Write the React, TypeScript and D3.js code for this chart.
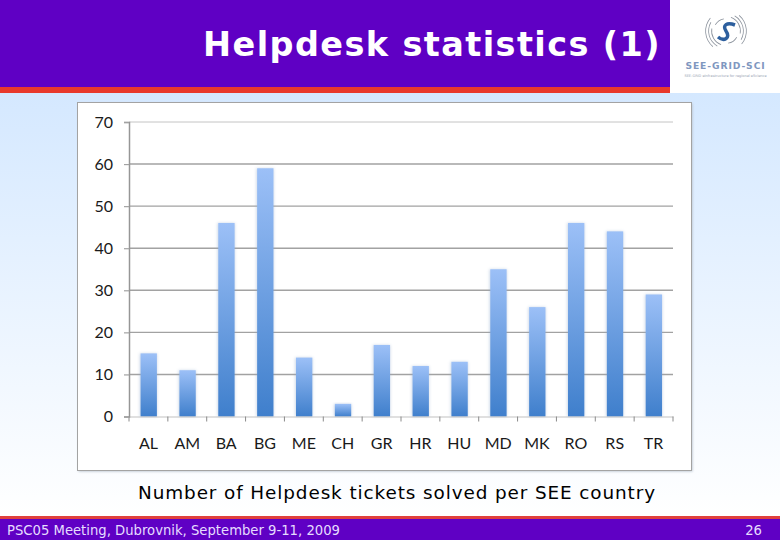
import React, { useEffect, useRef } from 'react'
import * as d3 from 'd3'

const countries = ['AL', 'AM', 'BA', 'BG', 'ME', 'CH', 'GR', 'HR', 'HU', 'MD', 'MK', 'RO', 'RS', 'TR']
const tickets = [15, 11, 46, 59, 14, 3, 17, 12, 13, 35, 26, 46, 44, 29]
const yTicks = [0, 10, 20, 30, 40, 50, 60, 70]

const titleText = 'Helpdesk statistics (1)'
const captionText = 'Number of Helpdesk tickets solved per SEE country'
const footerText = 'PSC05 Meeting, Dubrovnik, September 9-11, 2009'
const pageNumber = '26'

const width = 780
const height = 540
const panel = { left: 77.5, top: 102.5, right: 691.5, bottom: 470.5 }
const plot = { left: 129, top: 122, right: 673, bottom: 416.5 }
const uiFont = 'DejaVu Sans, Verdana, sans-serif'
const chartFont = 'Lato, Open Sans, sans-serif'

const App = () => {
    const svgRef = useRef<SVGSVGElement>(null)

    useEffect(() => {
        const svg = d3.select(svgRef.current)
        svg.selectAll('*').remove()

        const defs = svg.append('defs')
        const bg = defs.append('linearGradient').attr('id', 'bg').attr('x1', 0).attr('x2', 0).attr('y1', 0).attr('y2', 1)
        bg.append('stop').attr('offset', '0%').attr('stop-color', '#cbe3ff')
        bg.append('stop').attr('offset', '100%').attr('stop-color', '#ffffff')
        const barFill = defs.append('linearGradient').attr('id', 'barFill').attr('x1', 0).attr('x2', 0).attr('y1', 0).attr('y2', 1)
        barFill.append('stop').attr('offset', '0%').attr('stop-color', '#9cc0f7')
        barFill.append('stop').attr('offset', '100%').attr('stop-color', '#3f7fcc')
        const blur = defs.append('filter').attr('id', 'soft').attr('x', '-30%').attr('width', '160%')
        blur.append('feGaussianBlur').attr('stdDeviation', 1.6)
        const panelShadow = defs.append('filter').attr('id', 'panelShadow')
        panelShadow.append('feGaussianBlur').attr('stdDeviation', 0.8)

        // page
        svg.append('rect').attr('width', width).attr('height', 517).attr('fill', 'url(#bg)')
        svg.append('rect').attr('width', 670).attr('height', 88).attr('fill', '#5f00c4')
        svg.append('rect').attr('y', 87).attr('width', 670).attr('height', 6).attr('fill', '#e8392c')
        svg.append('rect').attr('x', 670).attr('width', 110).attr('height', 93).attr('fill', '#ffffff')
        svg.append('text').attr('x', 661).attr('y', 56).attr('text-anchor', 'end')
            .attr('font-family', uiFont).attr('font-weight', 'bold').attr('font-size', 33.5)
            .attr('letter-spacing', 1.4).attr('fill', '#fff').text(titleText)

        // logo
        const logo = svg.append('g').attr('fill', 'none')
        const swirl = d3.arc()
        ;[[14, 20, 100], [17, 30, 120], [20, 40, 130], [14, 200, 280], [17, 210, 300], [20, 220, 310], [12, 300, 350], [12, 120, 170]].forEach(([r, a0, a1]) => {
            logo.append('path').attr('transform', 'translate(726,31)')
                .attr('d', swirl({ innerRadius: r, outerRadius: r + 0.8, startAngle: (a0 * Math.PI) / 180, endAngle: (a1 * Math.PI) / 180 }) as string)
                .attr('fill', '#8d949e')
        })
        logo.append('path').attr('d', 'M718 37 C724 42 731 38 726 31 C722 25 727 22 735 25')
            .attr('stroke', '#2d5f9e').attr('stroke-width', 3.5)
        logo.append('text').attr('x', 725.5).attr('y', 68.5).attr('text-anchor', 'middle').attr('fill', '#7f97bf')
            .attr('font-family', uiFont).attr('font-weight', 'bold').attr('font-size', 9.2).attr('letter-spacing', 0.9).text('SEE-GRID-SCI')
        logo.append('text').attr('x', 725.5).attr('y', 76.5).attr('text-anchor', 'middle').attr('fill', '#9aa4b4')
            .attr('font-family', uiFont).attr('font-size', 3.5).text('SEE-GRID eInfrastructure for regional eScience')

        // footer
        svg.append('rect').attr('y', 516).attr('width', width).attr('height', 3).attr('fill', '#e0403c')
        svg.append('rect').attr('y', 519).attr('width', width).attr('height', 21).attr('fill', '#5f00c4')
        svg.append('text').attr('x', 7).attr('y', 535).attr('font-family', uiFont).attr('font-size', 13.2).attr('fill', '#e6dcff').text(footerText)
        svg.append('text').attr('x', 762).attr('y', 535).attr('text-anchor', 'end').attr('font-family', uiFont).attr('font-size', 13.2).attr('fill', '#e6dcff').text(pageNumber)

        // chart panel
        svg.append('rect').attr('x', panel.left + 1).attr('y', panel.top + 1).attr('width', panel.right - panel.left).attr('height', panel.bottom - panel.top)
            .attr('fill', '#b9c4cf').attr('filter', 'url(#panelShadow)')
        svg.append('rect').attr('x', panel.left).attr('y', panel.top).attr('width', panel.right - panel.left).attr('height', panel.bottom - panel.top)
            .attr('fill', '#fff').attr('stroke', '#a3a3a3').attr('stroke-width', 1)

        const x = d3.scaleBand().domain(countries).range([plot.left, plot.right]).paddingInner(0.58).paddingOuter(0.29)
        const band = d3.scaleBand().domain(countries).range([plot.left, plot.right])
        const y = d3.scaleLinear().domain([0, 70]).range([plot.bottom, plot.top])

        // grid
        svg.append('g').selectAll('line').data(yTicks.filter(t => t > 0)).enter().append('line')
            .attr('x1', plot.left).attr('x2', plot.right)
            .attr('y1', d => y(d)).attr('y2', d => y(d))
            .attr('stroke', d => (d === 70 ? '#c4c4c4' : '#a2a2a2')).attr('stroke-width', d => (d === 70 ? 1 : 1.4))

        // bars with a soft halo
        svg.append('g').selectAll('rect').data(tickets).enter().append('rect')
            .attr('x', (d, i) => (x(countries[i]) || 0) - 0.5)
            .attr('y', d => y(d))
            .attr('width', x.bandwidth() + 1)
            .attr('height', d => plot.bottom - y(d))
            .attr('fill', '#8fa9cc').attr('opacity', 0.45).attr('filter', 'url(#soft)')
        svg.append('g').selectAll('rect').data(tickets).enter().append('rect')
            .attr('x', (d, i) => (x(countries[i]) || 0) + 0.3)
            .attr('y', d => y(d))
            .attr('width', x.bandwidth())
            .attr('height', d => plot.bottom - y(d))
            .attr('fill', 'url(#barFill)')

        // axes
        const xAxis = svg.append('g').attr('transform', `translate(0,${plot.bottom})`)
            .call(d3.axisBottom(band).tickSize(0).tickPadding(21))
        xAxis.select('.domain').attr('stroke', '#c2c2c2').attr('stroke-width', 1.2)
        xAxis.selectAll('text').attr('font-family', chartFont).attr('font-size', 16).attr('fill', '#1a1a1a')
        svg.append('g').selectAll('line').data(d3.range(countries.length + 1)).enter().append('line')
            .attr('x1', d => plot.left + d * band.step()).attr('x2', d => plot.left + d * band.step())
            .attr('y1', plot.bottom).attr('y2', plot.bottom + 5)
            .attr('stroke', '#8a8a8a').attr('stroke-width', 1)

        const yAxis = svg.append('g').attr('transform', `translate(${plot.left},0)`)
            .call(d3.axisLeft(y).tickValues(yTicks).tickSize(5).tickPadding(11))
        yAxis.select('.domain').attr('stroke', '#969696').attr('stroke-width', 1.5)
        yAxis.selectAll('.tick line').attr('stroke', '#a2a2a2').attr('stroke-width', 1.2)
        yAxis.selectAll('text').attr('font-family', chartFont).attr('font-size', 16).attr('fill', '#1a1a1a')

        // caption
        svg.append('text').attr('x', 397).attr('y', 499).attr('text-anchor', 'middle')
            .attr('font-family', uiFont).attr('font-size', 18.4).attr('letter-spacing', 0.9).attr('fill', '#000').text(captionText)
    }, [])

    return <svg ref={svgRef} width={width} height={height} style={{ position: 'absolute', left: 0, top: 0 }} />
}

export default App
